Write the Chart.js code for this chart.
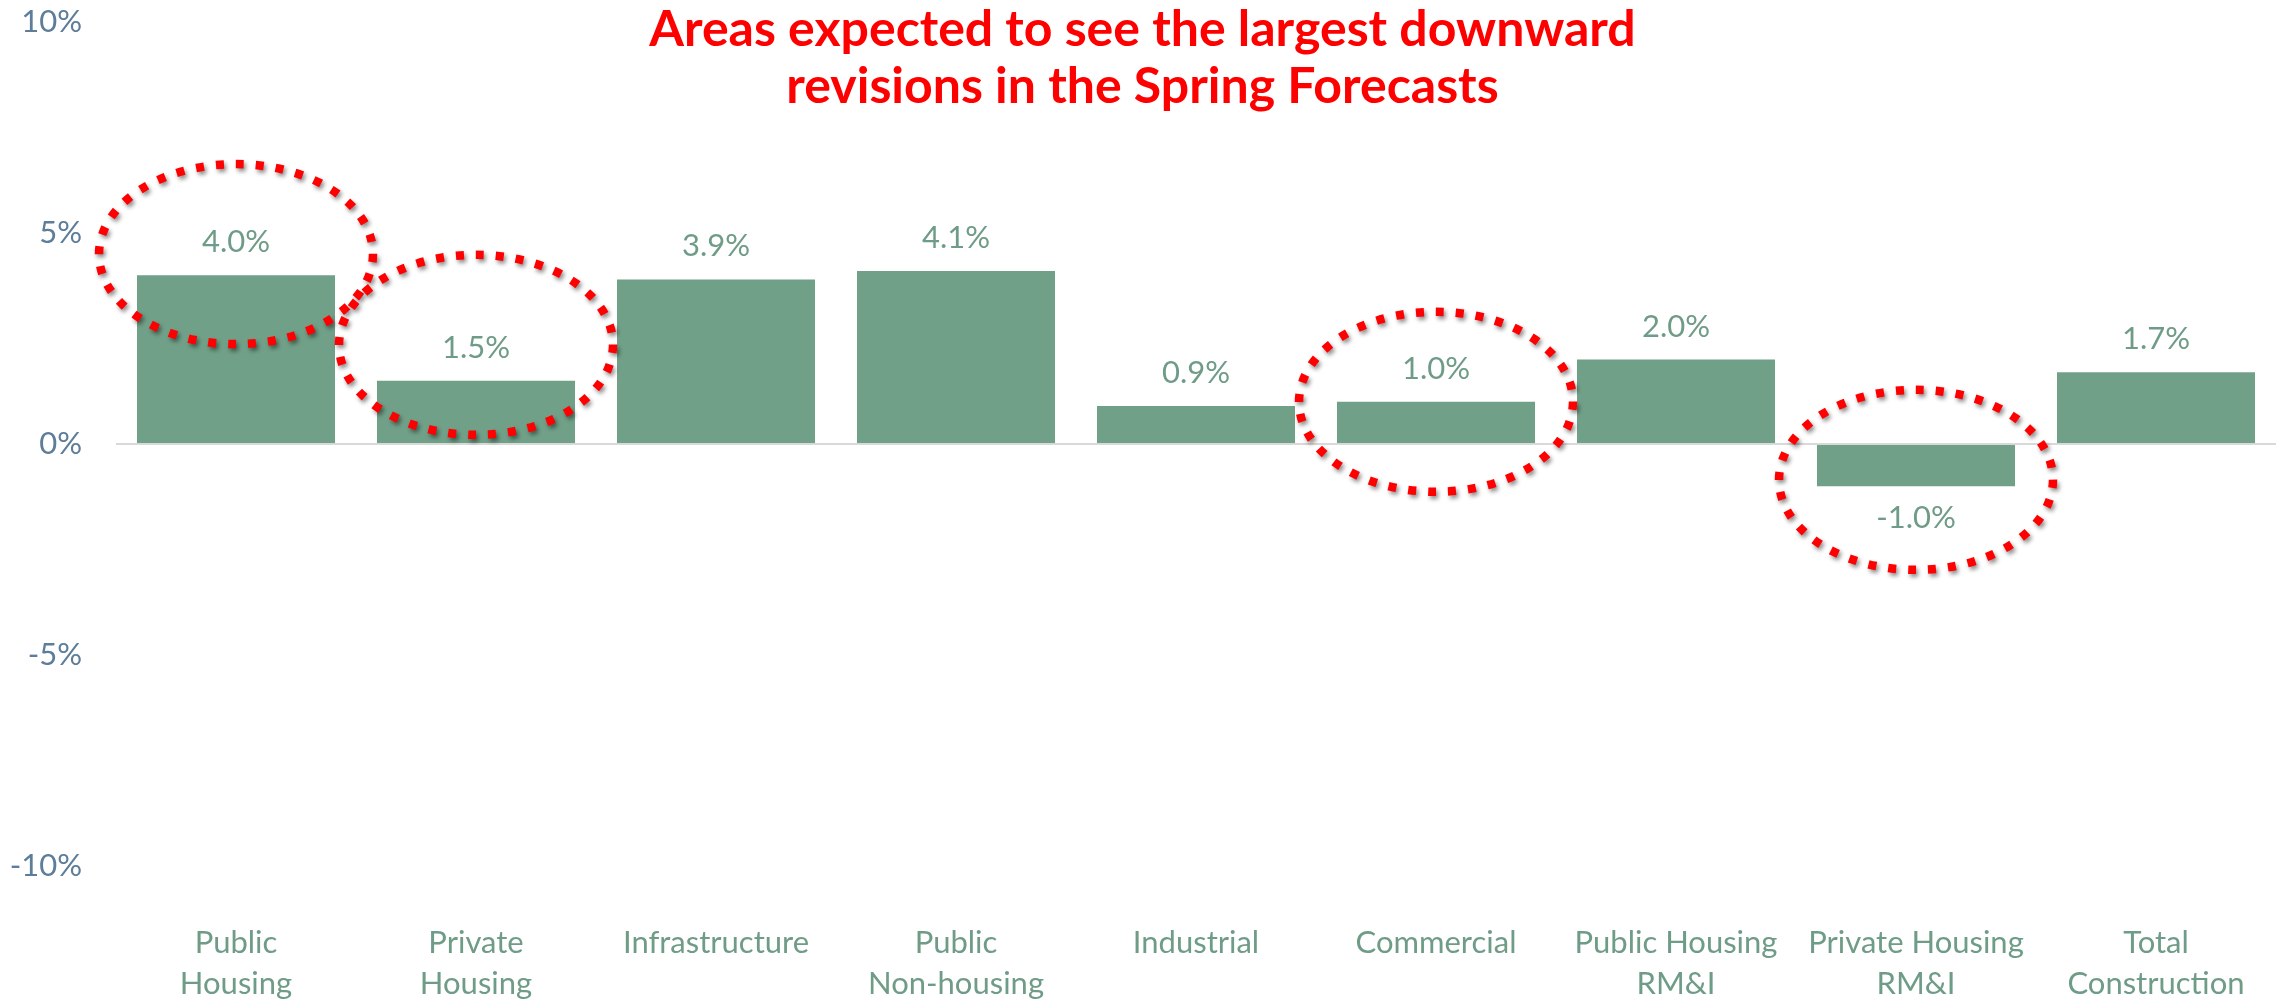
<!DOCTYPE html>
<html>
<head>
<meta charset="utf-8">
<script src="https://cdn.jsdelivr.net/npm/chart.js@4/dist/chart.umd.min.js"></script>
<style>
  html, body { margin: 0; padding: 0; background: #ffffff; }
  #wrap { width: 2285px; height: 1006px; position: relative; }
</style>
</head>
<body>
<div id="wrap"><canvas id="chart" width="2285" height="1006"></canvas></div>
<script>
// Forecast revision by sector (%)
const categories = [
  ['Public', 'Housing'],
  ['Private', 'Housing'],
  'Infrastructure',
  ['Public', 'Non-housing'],
  'Industrial',
  'Commercial',
  ['Public Housing', 'RM&I'],
  ['Private Housing', 'RM&I'],
  ['Total', 'Construction']
];
const revisions = [4.0, 1.5, 3.9, 4.1, 0.9, 1.0, 2.0, -1.0, 1.7];
const yTicks = [-10, -5, 0, 5, 10];
const titleLines = [
  'Areas expected to see the largest downward',
  'revisions in the Spring Forecasts'
];
// Sectors circled as the largest downward revisions, with the ring centre on the value axis (%)
const highlightIndex = [0, 1, 5, 7];
const highlightCentre = [4.5, 2.35, 1.0, -0.85];

const FONT = "'Gill Sans', 'Gill Sans MT', Lato, sans-serif";
const BAR_COLOR = '#71a088';
const LABEL_COLOR = '#6f9c86';
const AXIS_COLOR = '#5d7d99';

const valueLabels = {
  id: 'valueLabels',
  afterDatasetsDraw(chart) {
    const { ctx } = chart;
    const meta = chart.getDatasetMeta(0);
    ctx.save();
    ctx.font = `31px ${FONT}`;
    ctx.fillStyle = LABEL_COLOR;
    ctx.textAlign = 'center';
    ctx.textBaseline = 'middle';
    meta.data.forEach((bar, i) => {
      const v = revisions[i];
      const y = v >= 0 ? bar.y - 33 : bar.y + 32;
      ctx.fillText(v.toFixed(1) + '%', bar.x, y);
    });
    ctx.restore();
  }
};

const highlightRings = {
  id: 'highlightRings',
  afterDatasetsDraw(chart) {
    const { ctx } = chart;
    const xs = chart.scales.x, ys = chart.scales.y;
    ctx.save();
    ctx.strokeStyle = '#ff0000';
    ctx.lineWidth = 8.5;
    ctx.setLineDash([8, 12]);
    ctx.shadowColor = 'rgba(0,0,0,0.45)';
    ctx.shadowBlur = 4;
    ctx.shadowOffsetX = 2;
    ctx.shadowOffsetY = 3;
    highlightIndex.forEach((idx, k) => {
      const cx = xs.getPixelForValue(idx);
      const cy = ys.getPixelForValue(highlightCentre[k]);
      ctx.beginPath();
      ctx.ellipse(cx, cy, 137, 90, 0, 0, Math.PI * 2);
      ctx.stroke();
    });
    ctx.restore();
  }
};

const overlayTitle = {
  id: 'overlayTitle',
  afterDraw(chart) {
    const { ctx } = chart;
    ctx.save();
    ctx.font = `bold 50px ${FONT}`;
    ctx.fillStyle = '#ff0000';
    ctx.textAlign = 'center';
    ctx.textBaseline = 'middle';
    titleLines.forEach((line, i) => ctx.fillText(line, chart.width / 2, 30 + i * 57));
    ctx.restore();
  }
};

new Chart(document.getElementById('chart'), {
  type: 'bar',
  data: {
    labels: categories,
    datasets: [{
      data: revisions,
      backgroundColor: BAR_COLOR,
      borderWidth: 0,
      categoryPercentage: 1.0,
      barPercentage: 0.825
    }]
  },
  options: {
    responsive: false,
    devicePixelRatio: 1,
    animation: false,
    layout: { padding: { left: 0, right: 9, top: 22, bottom: 0 } },
    plugins: {
      legend: { display: false },
      title: { display: false },
      tooltip: { enabled: false }
    },
    scales: {
      x: {
        grid: { display: false, drawTicks: false },
        border: { display: false },
        ticks: {
          color: LABEL_COLOR,
          font: { family: FONT, size: 31, lineHeight: 1.32 },
          padding: 57,
          maxRotation: 0,
          autoSkip: false
        },
        afterFit(scale) { scale.height = 140; scale.paddingLeft = 0; scale.paddingRight = 0; }
      },
      y: {
        min: -10,
        max: 10,
        afterBuildTicks(scale) { scale.ticks = yTicks.map(v => ({ value: v })); },
        grid: {
          drawTicks: false,
          lineWidth: 2,
          color: c => (c.tick && c.tick.value === 0 ? '#d9d9d9' : 'rgba(0,0,0,0)')
        },
        border: { display: false },
        ticks: {
          color: AXIS_COLOR,
          font: { family: FONT, size: 31 },
          padding: 34,
          callback: v => v + '%'
        },
        afterFit(scale) { scale.width = 116; scale.paddingTop = 0; scale.paddingBottom = 0; }
      }
    }
  },
  plugins: [valueLabels, highlightRings, overlayTitle]
});
</script>
</body>
</html>
